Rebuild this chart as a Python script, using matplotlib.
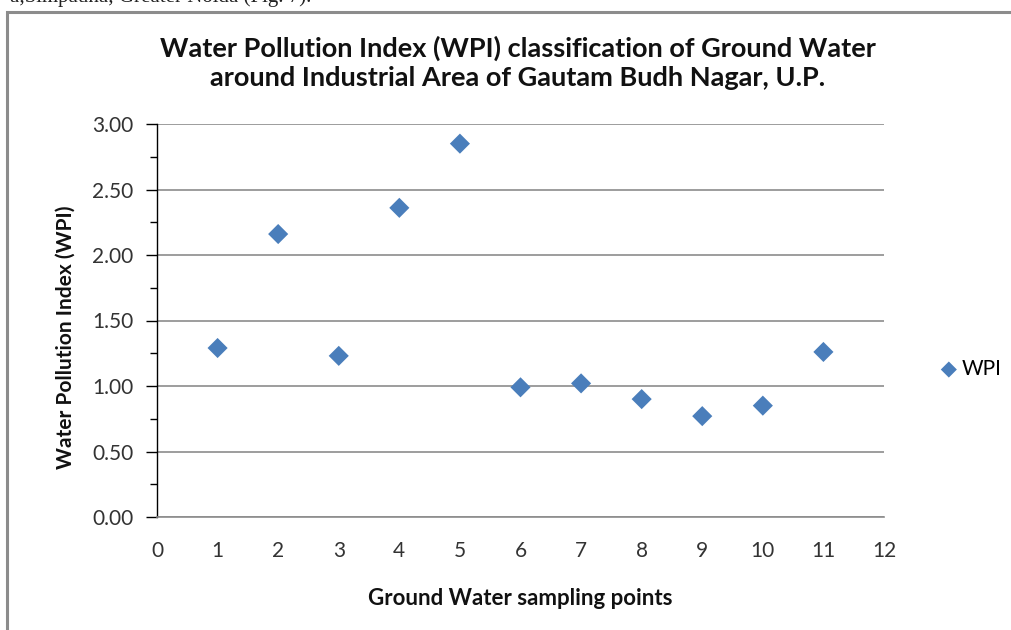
import matplotlib
matplotlib.use("Agg")
import matplotlib.pyplot as plt
from matplotlib.patches import Rectangle
from matplotlib.ticker import MultipleLocator, FormatStrFormatter

sampling_points = [1, 2, 3, 4, 5, 6, 7, 8, 9, 10, 11]
wpi_values = [1.29, 2.16, 1.23, 2.36, 2.85, 0.99, 1.02, 0.90, 0.77, 0.85, 1.26]
x_ticks = list(range(0, 13))
y_ticks = [0.0, 0.5, 1.0, 1.5, 2.0, 2.5, 3.0]

W, H = 1011, 630
fig = plt.figure(figsize=(W / 100, H / 100), dpi=100)
font = ["Lato", "DejaVu Sans"]

# outer frame (chart border)
fig.add_artist(Rectangle((7 / W, -0.01), 1.02, 1 - 12 / H + 0.01, transform=fig.transFigure,
                         fill=False, edgecolor="#8c8c8c", linewidth=2.2))
# clipped text line from surrounding document
fig.text(10 / W, 1 + 3 / H, "a,Simpauna, Greater Noida (Fig. 7).", family="Liberation Serif",
         fontsize=15, ha="left", va="center", color="#222222")

ax = fig.add_axes([157 / W, 1 - 517 / H, (884 - 157) / W, (517 - 124) / H])
ax.scatter(sampling_points, wpi_values, marker="D", s=105, color="#4a7ebb", zorder=3,
           edgecolors="none", label="WPI")

ax.set_xlim(0, 12)
ax.set_ylim(0, 3)
ax.set_xticks(x_ticks)
ax.set_yticks(y_ticks)
ax.yaxis.set_minor_locator(MultipleLocator(0.25))
ax.yaxis.set_major_formatter(FormatStrFormatter("%.2f"))
ax.grid(axis="y", color="#8c8c8c", linewidth=1.2, zorder=0)
ax.set_axisbelow(True)

for s in ["top", "right"]:
    ax.spines[s].set_visible(False)
ax.spines["left"].set_color("#000000")
ax.spines["left"].set_linewidth(1.0)
ax.spines["bottom"].set_color("#8c8c8c")
ax.spines["bottom"].set_linewidth(1.2)

ax.tick_params(axis="y", which="major", direction="out", length=8, width=1, color="#000000",
               pad=9, labelsize=15, labelcolor="#333333")
ax.tick_params(axis="y", which="minor", direction="out", length=5, width=1, color="#000000")
ax.tick_params(axis="x", length=0, pad=17, labelsize=15, labelcolor="#333333")
for lab in ax.get_xticklabels() + ax.get_yticklabels():
    lab.set_family(font)

ax.set_xlabel("Ground Water sampling points", family=font, fontsize=16, fontweight="bold",
              labelpad=20, color="#111111")
ax.set_ylabel("Water Pollution Index (WPI)", family=font, fontsize=15, fontweight="bold",
              labelpad=12, color="#111111")
ax.yaxis.label.set_y((517 - 337) / (517 - 124))

fig.text(518 / W, 1 - 63 / H,
         "Water Pollution Index (WPI) classification of Ground Water\naround Industrial Area of Gautam Budh Nagar, U.P.",
         family=font, fontsize=19.5, fontweight="bold", ha="center", va="center",
         linespacing=1.25, color="#111111")

ax.legend(loc="center left", bbox_to_anchor=(928 / W, 1 - 369 / H), bbox_transform=fig.transFigure,
          frameon=False, prop={"family": font, "size": 15}, handletextpad=0.1, markerscale=0.8,
          borderpad=0, handlelength=1.0)

fig.savefig("out.png", dpi=100)
